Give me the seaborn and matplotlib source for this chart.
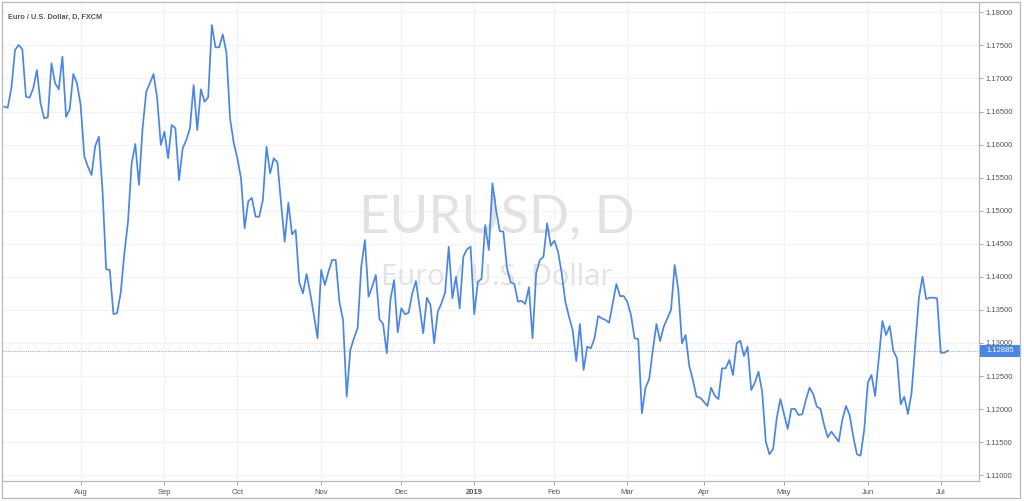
import pandas as pd
import seaborn as sns
import matplotlib.pyplot as plt
from matplotlib.patches import Rectangle
import matplotlib.transforms as mtransforms

# EUR/USD daily closes (3 Jul 2018 - 3 Jul 2019)
prices = [
    1.16573, 1.16558, 1.16855, 1.17430, 1.17506, 1.17441, 1.16724, 1.16709, 1.16851, 1.17128,
    1.16624, 1.16397, 1.16412, 1.17229, 1.16927, 1.16836, 1.17329, 1.16421, 1.16533, 1.17067,
    1.16927, 1.16598, 1.15827, 1.15666, 1.15540, 1.15978, 1.16119, 1.15313, 1.14114, 1.14104,
    1.13438, 1.13449, 1.13760, 1.14356, 1.14834, 1.15717, 1.16009, 1.15389, 1.16246, 1.16799,
    1.16927, 1.17067, 1.16700, 1.15994, 1.16195, 1.15793, 1.16296, 1.16246, 1.15464, 1.15944,
    1.16069, 1.16246, 1.16901, 1.16220, 1.16836, 1.16648, 1.16715, 1.17808, 1.17471, 1.17471,
    1.17667, 1.17389, 1.16397, 1.16028, 1.15793, 1.15495, 1.14734, 1.15147, 1.15192, 1.14910,
    1.14910, 1.15162, 1.15968, 1.15566, 1.15793, 1.15732, 1.15112, 1.14531, 1.15121, 1.14643,
    1.14708, 1.13912, 1.13751, 1.14043, 1.13751, 1.13423, 1.13071, 1.14104, 1.13877, 1.14078,
    1.14255, 1.14255, 1.13624, 1.13348, 1.12188, 1.12894, 1.13071, 1.13222, 1.14154, 1.14557,
    1.13700, 1.13851, 1.14028, 1.13358, 1.13287, 1.12844, 1.13650, 1.13952, 1.13162, 1.13525,
    1.13434, 1.13458, 1.13751, 1.13937, 1.13549, 1.13147, 1.13685, 1.13574, 1.12995, 1.13473,
    1.13600, 1.13760, 1.14456, 1.13676, 1.14002, 1.13525, 1.14305, 1.14417, 1.14456, 1.13434,
    1.13927, 1.13968, 1.14784, 1.14406, 1.15415, 1.15011, 1.14693, 1.14683, 1.14129, 1.13918,
    1.13892, 1.13624, 1.13639, 1.13590, 1.13842, 1.13071, 1.14054, 1.14255, 1.14305, 1.14810,
    1.14471, 1.14547, 1.14380, 1.14054, 1.13624, 1.13398, 1.13196, 1.12728, 1.13287, 1.12592,
    1.12944, 1.12920, 1.13071, 1.13408, 1.13373, 1.13348, 1.13307, 1.13600, 1.13892, 1.13710,
    1.13710, 1.13624, 1.13423, 1.13071, 1.13060, 1.11937, 1.12324, 1.12451, 1.12894, 1.13287,
    1.13030, 1.13246, 1.13373, 1.13499, 1.14179, 1.13801, 1.12995, 1.13121, 1.12652, 1.12440,
    1.12188, 1.12173, 1.12112, 1.12047, 1.12324, 1.12203, 1.12153, 1.12617, 1.12617, 1.12743,
    1.12516, 1.12995, 1.13035, 1.12803, 1.12944, 1.12289, 1.12400, 1.12566, 1.12264, 1.11508,
    1.11317, 1.11397, 1.11861, 1.12153, 1.11926, 1.11700, 1.12002, 1.12002, 1.11911, 1.11922,
    1.12138, 1.12324, 1.12229, 1.12037, 1.12006, 1.11760, 1.11574, 1.11659, 1.11583, 1.11508,
    1.11836, 1.12047, 1.11911, 1.11583, 1.11317, 1.11296, 1.11684, 1.12400, 1.12516, 1.12198,
    1.12769, 1.13332, 1.13121, 1.13257, 1.12879, 1.12769, 1.12073, 1.12188, 1.11926, 1.12248,
    1.12970, 1.13676, 1.14002, 1.13665, 1.13685, 1.13685, 1.13676, 1.12853, 1.12853, 1.12885,
]

# trading days (weekdays, no Christmas / New Year bar)
dates = pd.bdate_range('2018-07-03', '2019-07-03')
dates = dates.drop([pd.Timestamp('2018-12-25'), pd.Timestamp('2019-01-01')])

y_ticks = [1.110, 1.115, 1.120, 1.125, 1.130, 1.135, 1.140, 1.145,
           1.150, 1.155, 1.160, 1.165, 1.170, 1.175, 1.180]

title = "Euro / U.S. Dollar, D, FXCM"
watermark = "EURUSD, D"
watermark_sub = "Euro / U.S. Dollar"

df = pd.DataFrame({'bar': range(len(prices)), 'close': prices, 'date': dates})

sns.set_theme(style="white")
plt.rcParams['font.family'] = ['Liberation Sans', 'DejaVu Sans']

line_color = '#4a86e8'
grid_color = '#f1f3f6'
text_color = '#555555'
edge_color = '#b8b8b8'

fig = plt.figure(figsize=(10.24, 5.01), dpi=100)
ax = fig.add_axes([3 / 1024, 1 - 481 / 501, 976 / 1024, 478 / 501])

# month ticks at the first bar of each month
firsts = df.groupby([df['date'].dt.year, df['date'].dt.month])['bar'].min().values[1:]
month_labels = []
for b in firsts:
    d = df['date'][b]
    month_labels.append(str(d.year) if d.month == 1 else d.strftime('%b'))

for b in firsts:
    ax.axvline(b, color=grid_color, lw=0.9, zorder=0)
for t in y_ticks:
    ax.axhline(t, color=grid_color, lw=0.9, zorder=0)

# watermark
ax.text(0.506, 0.519, watermark, transform=ax.transAxes, fontsize=38,
        color='#e2e2e2', ha='center', va='baseline', zorder=1,
        family=['Lato', 'DejaVu Sans'])
ax.text(0.506, 0.41, watermark_sub, transform=ax.transAxes, fontsize=21,
        color='#e2e2e2', ha='center', va='baseline', zorder=1,
        family=['Open Sans', 'DejaVu Sans'])

sns.lineplot(data=df, x='bar', y='close', ax=ax, color=line_color,
             linewidth=1.25, zorder=3)

last = prices[-1]
ax.axhline(last, color='#8fb4ee', lw=0.8, ls=(0, (1, 1)), zorder=2)

ax.set_xlim(-0.3, 267.5)
ax.set_ylim(1.10913, 1.18141)
ax.set_xlabel('')
ax.set_ylabel('')

ax.yaxis.tick_right()
ax.set_yticks(y_ticks)
ax.set_yticklabels([f"{t:.5f}" for t in y_ticks])
ax.set_xticks(firsts)
ax.set_xticklabels(month_labels)
for lab in ax.get_xticklabels():
    if lab.get_text() == '2019':
        lab.set_fontweight('bold')
ax.tick_params(axis='y', direction='out', length=3, width=0.6, color='#999999',
               labelsize=5.5, labelcolor=text_color, pad=2, right=True, left=False)
ax.tick_params(axis='x', direction='out', length=3, width=0.6, color='#999999',
               labelsize=5.5, labelcolor=text_color, pad=3, bottom=True)

for side in ['top', 'left']:
    ax.spines[side].set_visible(False)
for side in ['right', 'bottom']:
    ax.spines[side].set_color(edge_color)
    ax.spines[side].set_linewidth(0.9)

# last price tag on the price scale
trans = mtransforms.blended_transform_factory(fig.transFigure, ax.transData)
tag_h = 0.0018
ax.add_patch(Rectangle((980 / 1024, last - tag_h / 2), 40 / 1024, tag_h,
                       transform=trans, fc='#4a86e8', ec='none',
                       clip_on=False, zorder=5))
ax.text(1000 / 1024, last, f"{last:.5f}", transform=trans, fontsize=5.5,
        color='white', ha='center', va='center', zorder=6, clip_on=False)

ax.text(0.0055, 0.978, title, transform=ax.transAxes, fontsize=5.3,
        fontweight='bold', color='#555555', ha='left', va='top')

# outer frame
fig.patches.append(Rectangle((2 / 1024, 3 / 501), 1018 / 1024, 496 / 501,
                             transform=fig.transFigure, fill=False,
                             ec=edge_color, lw=0.9))

fig.savefig('out.png', dpi=100)
